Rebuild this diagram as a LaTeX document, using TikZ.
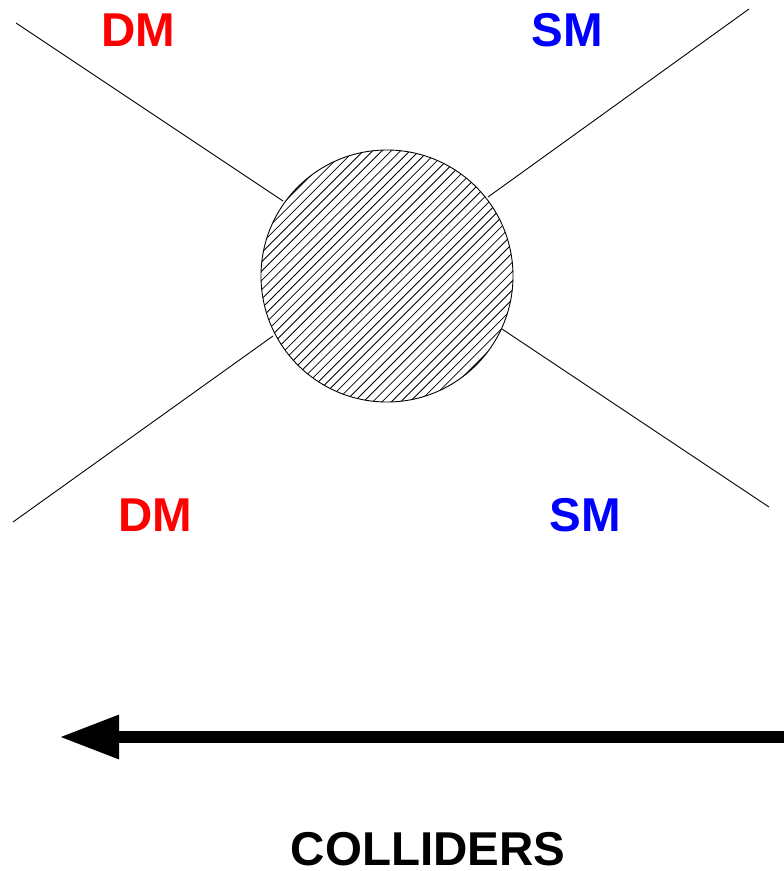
\documentclass[tikz,border=0pt]{standalone}
\usepackage{fontspec}
\setmainfont{Liberation Sans}
\usetikzlibrary{arrows.meta}
\definecolor{dmred}{RGB}{255,0,0}
\definecolor{smblue}{RGB}{0,0,255}
\tikzset{
  leg/.style={line width=0.9pt, black},
  hatch/.style={line width=0.8pt, black},
  lbl/.style={font=\fontsize{47.5}{47.5}\selectfont\bfseries, inner sep=0pt, anchor=center},
}
\begin{document}
\begin{tikzpicture}[x=1pt,y=-1pt]
\useasboundingbox (0,0) rectangle (784,871);
% blob
\node[circle, minimum size=252pt, inner sep=0pt] (blob) at (387,276) {};
\begin{scope}
  \clip (blob.center) circle[radius=126pt];
  \foreach \k in {-21,...,21} {
    \pgfmathsetmacro{\cc}{663+9.3*\k}
    \draw[hatch] (\cc-140,140) -- (\cc-412,412);
  }
\end{scope}
\draw[line width=0.9pt] (blob.center) circle[radius=126pt];
% external leg ends
\coordinate (ul) at (16,23);
\coordinate (ur) at (749,9);
\coordinate (ll) at (13,522);
\coordinate (lr) at (769,507);
\coordinate (ulc) at (283,201);
\coordinate (urc) at (488,197);
\coordinate (llc) at (273,336);
\coordinate (lrc) at (502,329);
\draw[leg] (ul) -- (ulc);
\draw[leg] (ur) -- (urc);
\draw[leg] (ll) -- (llc);
\draw[leg] (lr) -- (lrc);
% labels
\node[lbl, text=dmred] (dm1) at (138,30) {DM};
\node[lbl, text=smblue] (sm1) at (567,30) {SM};
\node[lbl, text=dmred] (dm2) at (155,515) {DM};
\node[lbl, text=smblue] (sm2) at (585,515) {SM};
% arrow
\coordinate (astart) at (784,737);
\coordinate (aend) at (59,737);
\draw[line width=12pt, -{Triangle[length=60pt,width=41pt]}] (astart) -- (aend);
\node[lbl, text=black] (coll) at (428,849) {COLLIDERS};
\end{tikzpicture}
\end{document}
